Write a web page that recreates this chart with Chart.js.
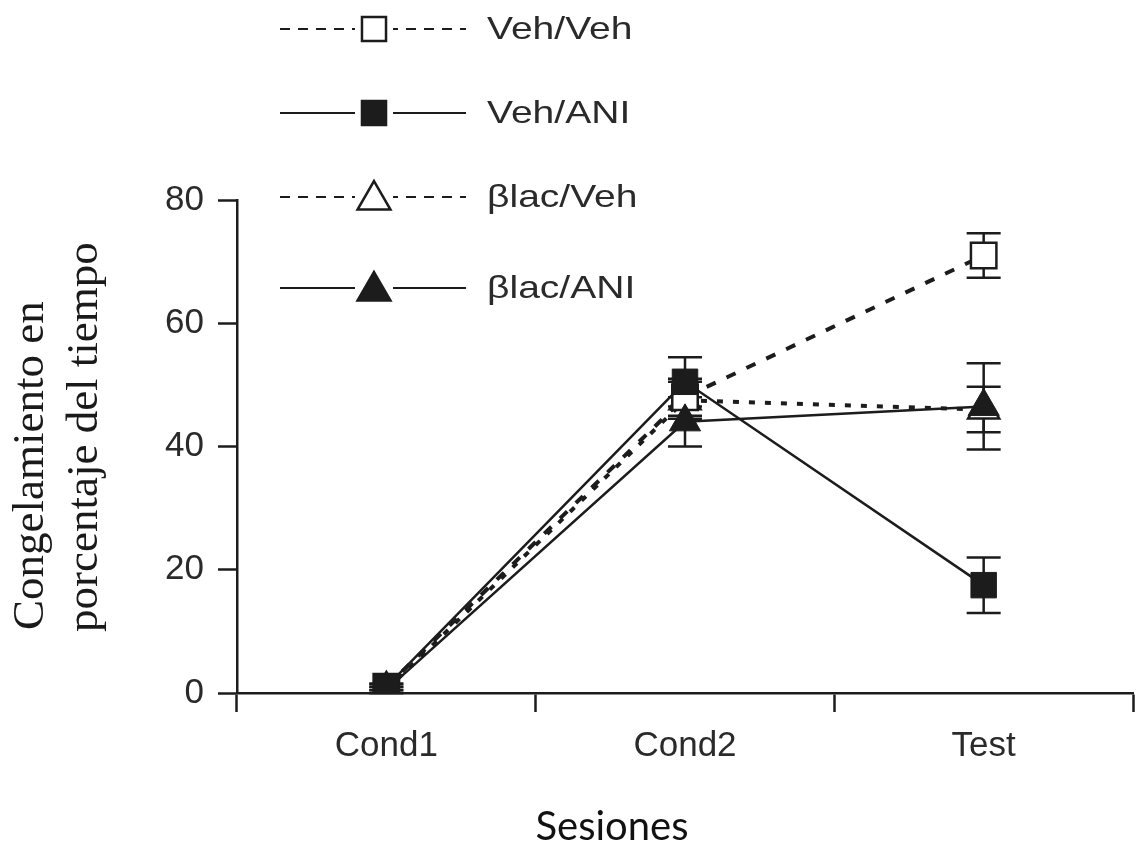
<!DOCTYPE html>
<html>
<head>
<meta charset="utf-8">
<script src="https://cdn.jsdelivr.net/npm/chart.js@4.4.0/dist/chart.umd.min.js"></script>
<style>
  html, body { margin: 0; padding: 0; background: #fff; }
</style>
</head>
<body>
<canvas id="freezing" width="1139" height="843"></canvas>
<script>
// sessions on the x axis
var sessions = ['Cond1', 'Cond2', 'Test'];
var seriesNames = ['Veh/Veh', 'Veh/ANI', 'βlac/Veh', 'βlac/ANI'];

// mean % freezing per session
var vehVeh = [1, 48, 71];
var vehAni = [1, 50.5, 17.5];
var blacVeh = [0.5, 47.5, 46];
var blacAni = [0.5, 44, 46.5];

// error bars (+/-)
var vehVehErr = [0.5, 3, 3.6];
var vehAniErr = [0.5, 4, 4.5];
var blacVehErr = [0.5, 3, 3.7];
var blacAniErr = [0.5, 4, 7];

var yTicks = [0, 20, 40, 60, 80];
var yTitle = ['Congelamiento en', 'porcentaje del tiempo'];
var xTitle = 'Sesiones';

var ink = '#1c1c1c';

// error bars, drawn under the lines and markers
var errorBars = {
    id: 'errorBars',
    beforeDatasetsDraw: function (chart) {
        var c = chart.ctx;
        var y = chart.scales.y;
        c.save();
        c.strokeStyle = ink;
        c.lineWidth = 2.5;
        chart.data.datasets.forEach(function (ds, i) {
            var meta = chart.getDatasetMeta(i);
            ds.data.forEach(function (v, j) {
                var x = meta.data[j].x;
                var top = y.getPixelForValue(v + ds.errors[j]);
                var bot = y.getPixelForValue(v - ds.errors[j]);
                c.beginPath();
                c.moveTo(x, top); c.lineTo(x, bot);
                c.moveTo(x - 17, top); c.lineTo(x + 17, top);
                c.moveTo(x - 17, bot); c.lineTo(x + 17, bot);
                c.stroke();
            });
        });
        c.restore();
    }
};

// axis titles: y title is two lines starting from the bottom, x title sits left of centre
var axisTitles = {
    id: 'axisTitles',
    afterDraw: function (chart) {
        var c = chart.ctx;
        c.save();
        c.fillStyle = '#1a1a1a';
        c.font = '45px "Liberation Serif"';
        c.textAlign = 'left';
        c.textBaseline = 'alphabetic';
        [[43, 630], [97, 632]].forEach(function (p, i) {
            c.save();
            c.translate(p[0], p[1]);
            c.rotate(-Math.PI / 2);
            c.fillText(yTitle[i], 0, 0);
            c.restore();
        });
        c.font = '40px Lato';
        c.textAlign = 'center';
        c.fillStyle = '#111';
        c.fillText(xTitle, 612, 840);
        c.restore();
    }
};

// legend in the top left corner, like the original figure
var sideLegend = {
    id: 'sideLegend',
    afterDraw: function (chart) {
        var c = chart.ctx;
        var rows = [29, 113, 197, 288];
        var styles = [
            {dash: [10, 8], shape: 'rect', fill: '#fff', r: 17},
            {dash: [], shape: 'rect', fill: ink, r: 17},
            {dash: [10, 8], shape: 'triangle', fill: '#fff', r: 19},
            {dash: [], shape: 'triangle', fill: ink, r: 19}
        ];
        c.save();
        seriesNames.forEach(function (name, i) {
            var s = styles[i];
            var yy = rows[i];
            c.strokeStyle = ink;
            c.lineWidth = 2;
            c.setLineDash(s.dash);
            c.beginPath();
            c.moveTo(280, yy); c.lineTo(466, yy);
            c.stroke();
            c.setLineDash([]);
            c.fillStyle = '#fff';
            c.fillRect(355, yy - 14, 38, 28);
            c.fillStyle = s.fill;
            c.lineWidth = 2.5;
            Chart.helpers.drawPoint(c, {pointStyle: s.shape, radius: s.r, rotation: 0, borderWidth: 2.5}, 374, yy + (s.shape === 'triangle' ? 3 : 0));
            // the printed figure is stretched sideways, so widen the text a little
            c.save();
            c.translate(487, yy + 1);
            c.scale(1.22, 1);
            c.fillStyle = '#2a2a2a';
            c.font = '32px "Liberation Sans"';
            c.textBaseline = 'middle';
            c.textAlign = 'left';
            c.fillText(name, 0, 0);
            c.restore();
        });
        c.restore();
    }
};

var ctx = document.getElementById('freezing').getContext('2d');
var chart = new Chart(ctx, {
    type: 'line',
    data: {
        labels: sessions,
        datasets: [{
            label: seriesNames[0],
            data: vehVeh,
            errors: vehVehErr,
            borderColor: ink,
            borderWidth: 4,
            borderDash: [10, 12],
            pointStyle: 'rect',
            pointRadius: 18,
            pointBackgroundColor: '#fff',
            pointBorderColor: ink,
            pointBorderWidth: 2.5,
            order: 2
        }, {
            label: seriesNames[1],
            data: vehAni,
            errors: vehAniErr,
            borderColor: ink,
            borderWidth: 2.5,
            pointStyle: 'rect',
            pointRadius: 18,
            pointBackgroundColor: ink,
            pointBorderColor: ink,
            pointBorderWidth: 1,
            order: 0
        }, {
            label: seriesNames[2],
            data: blacVeh,
            errors: blacVehErr,
            borderColor: ink,
            borderWidth: 4,
            borderDash: [6, 10],
            pointStyle: 'triangle',
            pointRadius: 18,
            pointBackgroundColor: '#fff',
            pointBorderColor: ink,
            pointBorderWidth: 2.5,
            order: 3
        }, {
            label: seriesNames[3],
            data: blacAni,
            errors: blacAniErr,
            borderColor: ink,
            borderWidth: 2.5,
            pointStyle: 'triangle',
            pointRadius: 18,
            pointBackgroundColor: ink,
            pointBorderColor: ink,
            pointBorderWidth: 1,
            order: 1
        }]
    },
    options: {
        responsive: false,
        animation: false,
        devicePixelRatio: 1,
        layout: { autoPadding: false, padding: { top: 200, right: 6, left: 0, bottom: 0 } },
        plugins: {
            legend: { display: false },
            tooltip: { enabled: false }
        },
        scales: {
            x: {
                offset: true,
                grid: { offset: true, drawOnChartArea: false, tickLength: 19, tickWidth: 2.5, tickColor: ink },
                border: { color: ink, width: 2.5 },
                ticks: { font: { family: 'Liberation Sans', size: 35 }, color: '#2a2a2a', padding: 13 },
                afterFit: function (s) { s.height = 150; s.paddingLeft = 0; s.paddingRight = 0; }
            },
            y: {
                min: 0,
                max: 80,
                afterBuildTicks: function (s) { s.ticks = yTicks.map(function (v) { return {value: v}; }); },
                grid: { drawOnChartArea: false, tickLength: 19, tickWidth: 2.5, tickColor: ink },
                border: { color: ink, width: 2.5 },
                ticks: { font: { family: 'Liberation Sans', size: 35 }, color: '#2a2a2a', padding: 14 },
                afterFit: function (s) { s.width = 237; s.paddingTop = 0; s.paddingBottom = 0; }
            }
        }
    },
    plugins: [errorBars, axisTitles, sideLegend]
});
</script>
</body>
</html>
